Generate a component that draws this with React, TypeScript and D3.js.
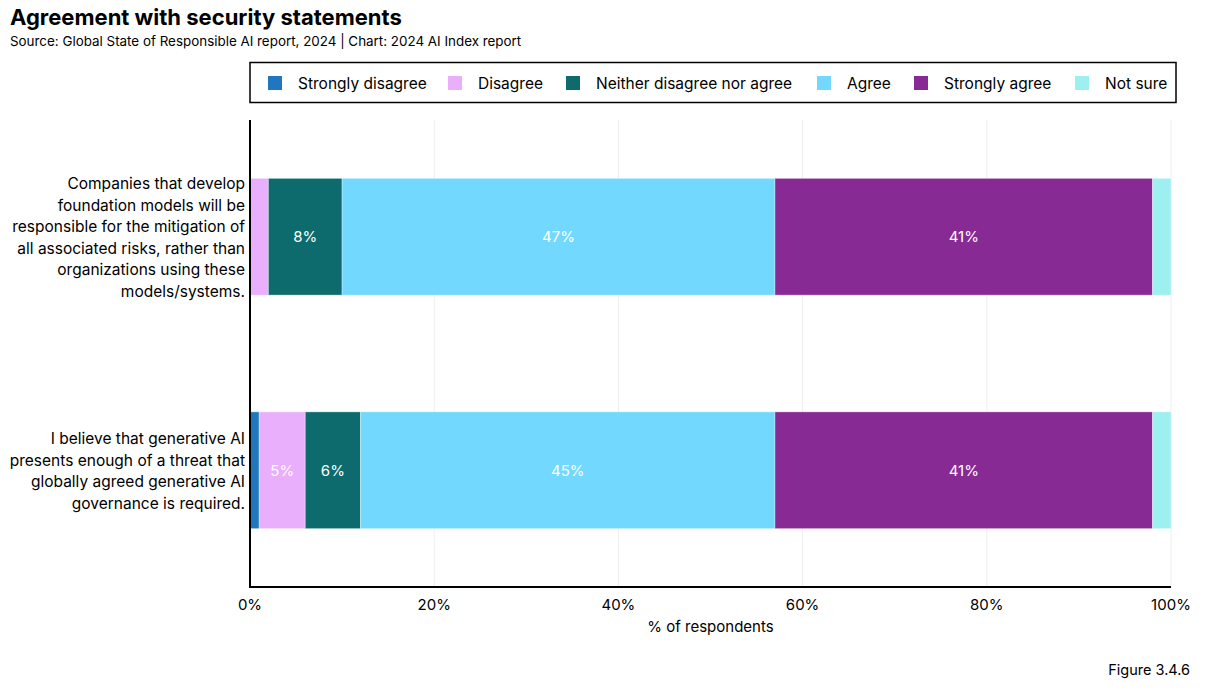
import React from "react";
import * as d3 from "d3";

const categories = [
  "Companies that develop foundation models will be responsible for the mitigation of all associated risks, rather than organizations using these models/systems.",
  "I believe that generative AI presents enough of a threat that globally agreed generative AI governance is required.",
];
const categoryLines = [
  ["Companies that develop", "foundation models will be", "responsible for the mitigation of", "all associated risks, rather than", "organizations using these", "models/systems."],
  ["I believe that generative AI", "presents enough of a threat that", "globally agreed generative AI", "governance is required."],
];
const seriesNames = ["Strongly disagree", "Disagree", "Neither disagree nor agree", "Agree", "Strongly agree", "Not sure"];
const seriesColors = ["#1F77BF", "#E9AFFC", "#0D6B6E", "#73D8FE", "#882A94", "#9EEFF0"];
const stronglyDisagree = [0, 1];
const disagree = [2, 5];
const neither = [8, 6];
const agree = [47, 45];
const stronglyAgree = [41, 41];
const notSure = [2, 2];
const xTicks = [0, 20, 40, 60, 80, 100];
const legendX = [268, 448, 566, 817, 914, 1075];

const FONT = "Inter, 'Noto Sans', sans-serif";

export default function App() {
  const W = 1206, H = 692;
  const x0 = 250, x1 = 1171, yTop = 120, yBot = 587;
  const x = d3.scaleLinear().domain([0, 100]).range([x0, x1]);
  const y = d3.scaleBand<number>().domain([0, 1]).range([yTop, yBot]).paddingInner(0.5).paddingOuter(0.25);
  const series = [stronglyDisagree, disagree, neither, agree, stronglyAgree, notSure];
  const rows = categories.map((c, i) => {
    const obj: any = { i };
    seriesNames.forEach((s, k) => (obj[s] = series[k][i]));
    return obj;
  });
  const stacked = d3.stack<any>().keys(seriesNames)(rows);

  return (
    <svg width={W} height={H} style={{ display: "block", position: "absolute", left: 0, top: 0 }} fontFamily={FONT}>
      <rect width={W} height={H} fill="#fff" />
      <text x={10} y={25} fontSize={22} fontWeight={700} fill="#000">Agreement with security statements</text>
      <text x={10} y={46} fontSize={13.4} fill="#000">Source: Global State of Responsible AI report, 2024 | Chart: 2024 AI Index report</text>

      {/* legend */}
      <rect x={250} y={62.5} width={926} height={40} fill="#fff" stroke="#000" strokeWidth={1.5} />
      {seriesNames.map((s, k) => (
        <g key={s}>
          <rect x={legendX[k]} y={76} width={14} height={14} fill={seriesColors[k]} />
          <text x={legendX[k] + 30} y={89} fontSize={15.5} fill="#000">{s}</text>
        </g>
      ))}

      {/* grid */}
      {xTicks.slice(1).map((t) => (
        <line key={t} x1={x(t)} x2={x(t)} y1={yTop} y2={yBot} stroke="#eeeeee" strokeWidth={1} />
      ))}

      {/* bars */}
      {stacked.map((layer, k) => (
        <g key={layer.key}>
          {layer.map((d, i) => {
            const w = x(d[1]) - x(d[0]);
            if (w <= 0) return null;
            const v = d[1] - d[0];
            return (
              <g key={i}>
                <rect x={x(d[0])} y={y(i)!} width={w} height={y.bandwidth()} fill={seriesColors[k]} stroke="rgba(255,255,255,0.35)" strokeWidth={1} />
                {v >= 5 && (
                  <text x={x(d[0]) + w / 2} y={y(i)! + y.bandwidth() / 2 + 5.5} textAnchor="middle" fontSize={15} fill="#fff">{v}%</text>
                )}
              </g>
            );
          })}
        </g>
      ))}

      {/* y labels */}
      {categoryLines.map((lines, i) => {
        const cy = y(i)! + y.bandwidth() / 2;
        const lh = 21.5;
        const start = cy - ((lines.length - 1) * lh) / 2 + 6;
        return (
          <text key={i} textAnchor="end" fontSize={15.5} fill="#000">
            {lines.map((l, j) => (
              <tspan key={j} x={245} y={start + j * lh}>{l}</tspan>
            ))}
          </text>
        );
      })}

      {/* axes */}
      <line x1={x0} x2={x0} y1={yTop} y2={yBot + 1} stroke="#000" strokeWidth={2} />
      <line x1={x0 - 1} x2={x1} y1={yBot} y2={yBot} stroke="#000" strokeWidth={2} />
      {xTicks.map((t) => (
        <text key={t} x={x(t)} y={610} textAnchor="middle" fontSize={15} fill="#000">{t}%</text>
      ))}
      <text x={(x0 + x1) / 2} y={632} textAnchor="middle" fontSize={15} fill="#000">% of respondents</text>

      <text x={1190} y={675} textAnchor="end" fontSize={14.5} fill="#000">Figure 3.4.6</text>
    </svg>
  );
}
